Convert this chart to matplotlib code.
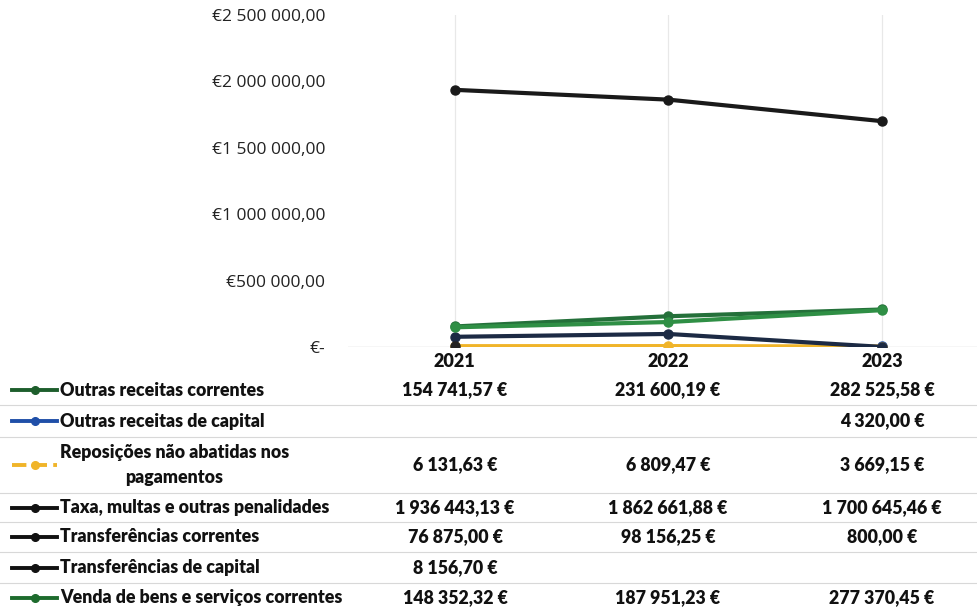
import matplotlib.pyplot as plt
from matplotlib.lines import Line2D
from matplotlib.ticker import FuncFormatter

years = ["2021", "2022", "2023"]
series_names = [
    "Outras receitas correntes",
    "Outras receitas de capital",
    "Reposições não abatidas nos\npagamentos",
    "Taxa, multas e outras penalidades",
    "Transferências correntes",
    "Transferências de capital",
    "Venda de bens e serviços correntes",
]
outras_correntes = [154741.57, 231600.19, 282525.58]
outras_capital = [None, None, 4320.00]
reposicoes = [6131.63, 6809.47, 3669.15]
taxas = [1936443.13, 1862661.88, 1700645.46]
transf_correntes = [76875.00, 98156.25, 800.00]
transf_capital = [8156.70, None, None]
venda_bens = [148352.32, 187951.23, 277370.45]
series_values = [outras_correntes, outras_capital, reposicoes, taxas,
                 transf_correntes, transf_capital, venda_bens]

y_ticks = [0, 500000, 1000000, 1500000, 2000000, 2500000]

# style per series: (plot colour, legend colour, plot linestyle, legend linestyle)
styles = [
    ("#24703a", "#1d5e2c", "-", "-"),
    ("#1f4fa8", "#1f4fa8", "-", "-"),
    ("#f0b429", "#f0b429", "-", "--"),
    ("#1a1a1a", "#111111", "-", "-"),
    ("#1c2a44", "#111111", "-", "-"),
    ("#222222", "#111111", "-", "-"),
    ("#2f8f45", "#1d6b2d", "-", "-"),
]
z_order = [4, 3, 3, 3, 3, 3, 5]


def fmt_eur(v):
    s = f"{v:,.2f}".replace(",", " ").replace(".", ",")
    return s + " €"


W, H = 977, 612
fig = plt.figure(figsize=(W / 100, H / 100), dpi=100)
fig.patch.set_facecolor("white")

ax_left, ax_right, ax_top, ax_bot = 348, 977, 15, 347
ax = fig.add_axes([ax_left / W, 1 - ax_bot / H, (ax_right - ax_left) / W, (ax_bot - ax_top) / H])
ax.set_xlim(-0.5, 2.445)
ax.set_ylim(0, 2500000)

x = list(range(len(years)))
for vals, (pc, _, ls, _), z in zip(series_values, styles, z_order):
    ax.plot(x, vals, color=pc, lw=3, ls=ls, marker="o", ms=6.5, zorder=z)

for s in ax.spines.values():
    s.set_visible(False)
ax.axhline(0, color="#d6d6d6", lw=1, zorder=1)
for xi in x:
    ax.axvline(xi, color="#e8e8e8", lw=0.9, zorder=0)

ax.set_yticks(y_ticks)
ax.yaxis.set_major_formatter(FuncFormatter(
    lambda v, p: "€-" if v == 0 else "€" + f"{v:,.2f}".replace(",", " ").replace(".", ",")))
ax.tick_params(axis="y", length=0, pad=16.5, labelsize=12.5, labelcolor="#222222")
for lab in ax.get_yticklabels():
    lab.set_family("Open Sans")
ax.set_xticks(x)
ax.set_xticklabels(years, fontfamily="Lato", fontweight="heavy", fontsize=13)
ax.tick_params(axis="x", length=0, pad=4, labelcolor="#111111")

# data table below the chart
row_edges = [375, 405, 437, 493, 522, 552, 583, 612]
col_centers = [455, 668, 882]
for yb in row_edges[1:-1]:
    fig.add_artist(Line2D([0, 1], [1 - yb / H] * 2, color="#d8d8d8", lw=0.8))

for i, (name, vals, (_, lc, _, lls)) in enumerate(zip(series_names, series_values, styles)):
    yc = 1 - (row_edges[i] + row_edges[i + 1]) / 2 / H
    fig.add_artist(Line2D([12 / W, 57 / W], [yc, yc], color=lc, lw=2.8, ls=lls))
    fig.add_artist(Line2D([34.5 / W], [yc], color=lc, marker="o", ms=5.5, lw=0))
    fig.text(60 / W, yc, name, ha="left", va="center", multialignment="center",
             fontfamily="Lato", fontweight="heavy", fontsize=12.8, color="#111111",
             linespacing=1.55)
    for cx, v in zip(col_centers, vals):
        if v is not None:
            fig.text(cx / W, yc, fmt_eur(v), ha="center", va="center",
                     fontfamily="Lato", fontweight="heavy", fontsize=12.8, color="#111111")

fig.savefig("out.png", dpi=100)
